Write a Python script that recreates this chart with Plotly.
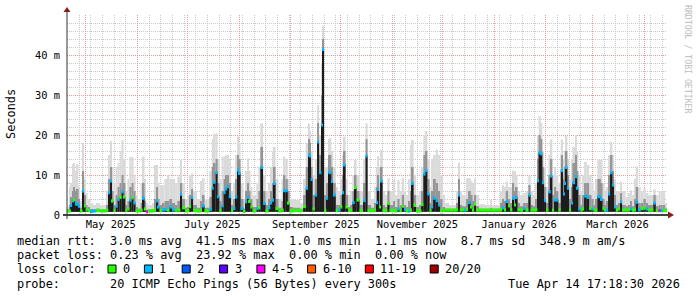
import datetime as dt
import plotly.graph_objects as go

# ---------------- data ----------------
T0 = dt.datetime(2025, 4, 20)                 # t_days = days after this moment
END = dt.datetime(2026, 4, 14, 17, 18, 30)    # graph end time
SPAN_DAYS = 360

t_days = [-0.28, 0.96, 1.86, 2.76, 3.66, 4.56, 5.58, 6.66, 7.56, 9.06,
          9.96, 10.86, 12.06, 13.56, 15.36, 17.16, 19.56, 21.96, 23.46, 24.54,
          25.56, 26.64, 27.66, 28.86, 30.06, 31.26, 32.46, 33.66, 34.74, 35.94,
          37.14, 38.46, 39.66, 40.86, 42.36, 43.86, 45.18, 46.26, 47.16, 48.36,
          50.76, 52.26, 53.16, 54.18, 55.26, 56.76, 58.26, 60.06, 61.14, 62.76,
          64.56, 65.94, 67.74, 68.76, 70.56, 72.06, 73.14, 74.16, 75.36, 77.76,
          79.86, 80.76, 82.26, 84.06, 85.14, 86.58, 87.78, 88.86, 90.06, 91.14,
          92.46, 93.66, 94.86, 95.76, 96.78, 98.16, 99.36, 100.74, 101.88, 102.84,
          103.86, 105.66, 106.74, 107.76, 108.84, 109.86, 111.06, 113.34, 114.54, 115.74,
          117.36, 118.86, 120.78, 121.74, 122.76, 123.78, 124.86, 126.66, 128.46, 129.78,
          130.74, 132.18, 133.26, 135.36, 137.76, 139.56, 141.36, 142.98, 144.36, 145.14,
          145.86, 147.06, 148.38, 149.76, 150.96, 152.34, 153.06, 153.96, 155.34, 156.36,
          157.26, 158.34, 159.36, 160.98, 162.36, 163.74, 164.94, 165.78, 166.86, 168.36,
          169.86, 170.94, 172.38, 173.46, 175.26, 177.36, 178.86, 180.06, 182.16, 183.96,
          185.16, 186.06, 186.96, 187.98, 189.06, 190.56, 191.94, 193.26, 195.36, 196.56,
          197.94, 199.26, 200.58, 201.96, 203.16, 204.54, 205.56, 206.58, 207.66, 209.16,
          210.96, 212.46, 213.54, 214.86, 215.94, 217.26, 218.46, 219.36, 220.98, 222.36,
          223.56, 225.06, 226.56, 228.96, 231.36, 233.46, 234.36, 235.38, 236.76, 237.96,
          239.16, 240.36, 241.98, 243.06, 243.96, 245.16, 246.96, 250.56, 253.56, 254.76,
          257.76, 259.86, 260.94, 261.96, 262.98, 264.36, 265.56, 266.94, 267.96, 268.98,
          270.06, 271.56, 273.36, 274.86, 276.54, 277.86, 279.36, 280.86, 281.94, 282.66,
          283.98, 284.94, 285.96, 287.16, 288.54, 289.98, 290.94, 291.96, 293.16, 294.54,
          295.98, 297.36, 298.08, 298.98, 299.94, 300.96, 302.16, 302.94, 304.56, 305.46,
          306.54, 307.86, 309.06, 309.96, 311.58, 312.96, 314.46, 315.66, 316.86, 317.94,
          319.98, 321.06, 322.26, 322.98, 324.36, 325.56, 326.94, 327.96, 328.98, 330.36,
          331.56, 332.76, 334.98, 336.36, 337.56, 338.76, 339.96, 340.98, 342.36, 343.98,
          345.54, 346.98, 348.36, 350.16, 351.54, 352.98, 354.66, 355.86, 357.06, 358.56]

median_ms = [1.0, 1.0, 2.4, 3.5, 3.8, 2.8, 2.7, 2.2, 1.0, 6.0,
             2.3, 1.3, 1.1, 0.9, 1.0, 1.1, 1.0, 1.0, 1.2, 5.6,
             8.5, 3.5, 1.1, 2.2, 3.9, 4.4, 5.8, 4.5, 1.1, 1.5,
             3.7, 4.3, 3.0, 1.0, 1.0, 1.2, 4.2, 1.5, 0.8, 1.0,
             1.0, 1.2, 3.5, 2.0, 1.1, 1.3, 1.4, 1.2, 2.0, 1.3,
             1.1, 1.2, 5.2, 1.8, 1.0, 1.1, 2.1, 4.4, 1.1, 1.0,
             1.2, 2.3, 1.0, 1.0, 1.4, 6.7, 8.2, 10.6, 4.6, 1.1,
             2.3, 5.6, 6.5, 7.1, 4.6, 1.1, 1.6, 4.5, 11.2, 10.4,
             1.6, 0.9, 3.3, 4.4, 3.4, 2.0, 1.0, 1.6, 1.8, 11.9,
             2.9, 1.0, 1.8, 3.0, 3.7, 7.9, 1.6, 1.0, 1.2, 6.1,
             6.1, 3.0, 1.0, 1.1, 1.1, 1.1, 2.1, 6.7, 15.0, 14.75,
             8.9, 1.5, 5.0, 18.3, 10.6, 22.5, 41.4, 1.1, 4.2, 10.8,
             10.6, 8.4, 5.0, 1.1, 1.2, 2.0, 5.6, 12.5, 2.0, 1.1,
             1.2, 3.1, 6.9, 3.75, 1.1, 3.6, 14.75, 1.1, 1.1, 1.2,
             3.1, 6.4, 2.0, 8.5, 1.1, 1.0, 2.9, 1.1, 1.1, 1.0,
             1.5, 1.1, 2.2, 1.3, 1.0, 1.0, 1.2, 7.9, 2.4, 1.0,
             1.0, 2.6, 10.25, 11.1, 5.25, 1.1, 2.0, 4.2, 3.6, 2.5,
             1.1, 1.1, 1.2, 1.2, 1.2, 1.3, 5.0, 1.2, 1.3, 1.2,
             1.4, 3.1, 2.0, 1.2, 2.7, 1.2, 1.2, 1.2, 1.2, 1.2,
             1.2, 1.3, 1.8, 1.3, 3.4, 2.3, 1.3, 4.2, 2.5, 4.4,
             1.3, 1.2, 1.6, 1.2, 5.0, 1.2, 1.2, 1.3, 8.6, 15.6,
             15.3, 8.1, 3.6, 1.2, 5.8, 9.75, 1.2, 3.75, 3.75, 1.2,
             11.1, 5.25, 7.9, 11.9, 6.7, 1.2, 3.0, 8.1, 9.6, 6.7,
             1.5, 1.2, 1.5, 4.75, 4.4, 1.6, 1.5, 1.2, 1.2, 4.6,
             3.9, 1.6, 1.2, 1.2, 5.25, 10.6, 7.5, 2.0, 1.2, 1.5,
             3.3, 1.2, 1.2, 1.3, 1.5, 1.2, 1.3, 3.2, 1.3, 1.6,
             1.7, 1.5, 1.2, 1.2, 3.0, 1.1, 1.1, 1.1, 1.1, 1.1]

smoke_mid_ms = [1.4, 2.5, 4.5, 6, 7, 6, 6.5, 4, 1.8, 11,
                5, 2.5, 2, 1.5, 1.4, 1.6, 1.4, 1.4, 2.5, 9,
                12, 6, 2.5, 5, 7, 8, 10, 8, 2.5, 3.5,
                7, 8, 6, 2, 1.6, 3, 8, 3.5, 1.3, 1.4,
                1.5, 4, 7, 4, 2.5, 3, 3.5, 3.5, 4, 3,
                2.5, 3.5, 8, 4, 1.8, 2, 5, 6.5, 2.5, 1.8,
                3.5, 5, 1.8, 1.8, 4.5, 12, 13, 14, 8, 3.5,
                6, 9, 10, 10, 8, 2.5, 4, 9, 15, 14,
                4, 1.6, 6, 8, 6, 4, 2, 4, 6, 17,
                6, 2.5, 4, 6, 8, 12, 4, 1.8, 3.5, 10,
                9, 6, 2, 1.8, 1.8, 1.6, 5, 12, 19, 18,
                12, 5, 9, 23, 15, 30, 44, 5, 8, 15,
                15, 12, 8, 2.5, 2.5, 5, 10, 16, 5, 2,
                2.5, 6, 10, 6, 2.5, 8, 19, 2.5, 1.8, 3,
                7, 10, 6, 12, 2.5, 2, 6, 2.5, 3.5, 2,
                4, 2.5, 5, 2.5, 2, 3.5, 6, 12, 5, 2,
                2.5, 6, 15, 16, 9, 3, 6, 9, 8, 6,
                4, 2, 1.6, 1.6, 1.6, 3, 9, 2.5, 2.2, 2.2,
                4, 6, 5, 3.5, 5, 2.2, 1.6, 1.6, 1.8, 1.6,
                1.6, 3, 4, 3.5, 6, 4, 3, 8, 6, 7,
                3, 2.2, 3, 3, 7.5, 2.5, 2.2, 4, 14, 20,
                19, 12, 7, 3, 10, 14, 5, 7, 6, 3,
                15, 9, 12, 16, 10, 4, 7, 13, 15, 11,
                5, 2.5, 5, 8, 8, 5, 4, 2.5, 4, 9,
                8, 4, 2.5, 3.5, 10, 15, 11, 5, 2.5, 3,
                5.5, 2.5, 2.2, 2.5, 3.5, 2.2, 4, 7, 3, 3,
                4, 3, 2.5, 2.5, 5, 2.2, 2.5, 2.5, 2.5, 1.6]

smoke_max_ms = [2.0, 7, 8, 12.7, 13, 11, 12.7, 7, 3.5, 18,
                9, 5.5, 4, 3, 2.5, 3, 2.5, 2.5, 6, 15,
                18.5, 12, 8, 12, 13, 16, 18.7, 14, 6, 9,
                14.5, 14.5, 10, 5, 4, 8, 14.6, 9, 3, 2.5,
                3, 12.5, 12.5, 8, 7.5, 7.5, 9, 10, 9, 9,
                8, 9.6, 13.8, 8, 4, 5, 10, 10.4, 6, 4,
                8.5, 9.2, 4, 4, 11, 19, 20.3, 20.4, 14, 9,
                14.6, 14.6, 15, 15, 13.7, 6, 8, 15, 19.6, 18,
                8, 4, 11, 14.2, 11, 7, 5, 8, 12, 22.9,
                10, 6, 8, 12, 16, 17, 9, 4, 9, 14.6,
                14, 9, 4, 3.75, 3.75, 3, 9, 18, 22.9, 21,
                16, 10, 14, 27.5, 20, 38, 47.3, 12, 12, 19,
                19.2, 16, 12, 7, 6, 9, 15, 19.6, 9, 5,
                6, 10, 13.75, 10, 6, 14, 22.9, 6, 4, 7,
                12, 14.75, 12, 16.25, 6, 5, 9.2, 6, 8.75, 5,
                8.7, 6, 9.2, 6, 5, 9, 17.5, 18.75, 10, 5,
                6, 12, 20, 21, 14, 7, 14, 15, 16.3, 15,
                10, 5, 3, 2.5, 2.5, 6, 13.1, 6, 5, 5,
                9.2, 9.2, 8.5, 8, 9.1, 5, 2.7, 2.5, 3.75, 2.5,
                2.5, 6, 7.5, 7, 8.3, 7, 7, 11.1, 11, 10,
                6, 5, 5.5, 6, 9.75, 6, 5, 8, 20, 24.75,
                23, 16, 12, 7, 15, 18.9, 10, 12, 10, 8,
                18.9, 14, 16, 19.75, 14, 9, 14, 17, 20, 16,
                10, 6, 10, 13.3, 12.5, 10, 8, 6, 9, 13.75,
                13.75, 8, 6, 7, 15, 18.3, 15, 9, 6, 6,
                8.3, 6, 4.5, 5.5, 6.2, 5, 9, 12.1, 7, 6,
                6.7, 5.5, 5, 5, 6.4, 5, 6, 6, 6, 3]

lost_pings = [0, 0, 1, 1, 0, 1, 1, 1, 0, 1,
              0, 0, 0, 1, 1, 0, 0, 0, 0, 1,
              1, 0, 0, 1, 1, 0, 1, 0, 0, 0,
              1, 0, 1, 0, 0, 0, 1, 0, 4, 0,
              0, 0, 1, 1, 0, 1, 1, 0, 1, 1,
              0, 0, 1, 0, 0, 0, 0, 1, 0, 0,
              0, 1, 0, 0, 1, 1, 1, 1, 1, 0,
              1, 1, 1, 1, 1, 0, 1, 1, 1, 1,
              1, 0, 1, 1, 0, 0, 0, 1, 0, 1,
              1, 0, 1, 1, 1, 1, 0, 0, 0, 1,
              1, 0, 0, 0, 0, 0, 0, 1, 1, 1,
              1, 0, 1, 1, 1, 1, 1, 0, 1, 1,
              1, 1, 1, 0, 1, 0, 1, 1, 0, 0,
              0, 1, 0, 0, 0, 1, 1, 0, 0, 0,
              1, 1, 0, 1, 0, 0, 0, 0, 0, 0,
              1, 0, 0, 1, 0, 1, 0, 1, 0, 0,
              0, 0, 1, 1, 1, 0, 1, 1, 1, 1,
              0, 0, 0, 0, 0, 0, 1, 0, 0, 1,
              0, 1, 0, 0, 0, 0, 0, 0, 0, 0,
              0, 0, 1, 0, 1, 0, 0, 1, 0, 1,
              0, 0, 1, 0, 1, 0, 0, 0, 1, 1,
              1, 1, 1, 0, 1, 1, 0, 1, 1, 0,
              1, 1, 1, 1, 1, 0, 1, 1, 1, 1,
              1, 0, 0, 1, 1, 0, 1, 0, 0, 1,
              1, 0, 0, 1, 1, 1, 1, 1, 0, 0,
              1, 0, 0, 0, 1, 0, 0, 1, 1, 0,
              0, 1, 0, 0, 1, 0, 4, 1, 0, 0]

loss_bounds = [0, 1, 2, 3, 5, 10, 19, 20]
loss_labels = ["0", "1", "2", "3", "4-5", "6-10", "11-19", "20/20"]
loss_colors = ["#26ff00", "#00b8ff", "#0059ff", "#5e00ff",
               "#ff00ff", "#ff5e00", "#ff0000", "#a00000"]

month_starts = ["2025-05-01", "2025-06-01", "2025-07-01", "2025-08-01",
                "2025-09-01", "2025-10-01", "2025-11-01", "2025-12-01",
                "2026-01-01", "2026-02-01", "2026-03-01", "2026-04-01"]
label_dates = ["2025-05-16", "2025-07-16", "2025-09-16",
               "2025-11-16", "2026-01-16", "2026-03-16"]
label_text = ["May 2025", "July 2025", "September 2025",
              "November 2025", "January 2026", "March 2026"]
y_tick_s = [0, 0.01, 0.02, 0.03, 0.04]
y_tick_text = ["0", "10 m", "20 m", "30 m", "40 m"]

rtt_line = "median rtt:  3.0 ms avg  41.5 ms max  1.0 ms min  1.1 ms now  8.7 ms sd  348.9 m am/s"
loss_line = "packet loss: 0.23 % avg  23.92 % max  0.00 % min  0.00 % now"
probe_line = "probe:       20 ICMP Echo Pings (56 Bytes) every 300s"
stamp_text = "Tue Apr 14 17:18:30 2026"
watermark = "RRDTOOL / TOBI OETIKER"

# ---------------- styling ----------------
MONO = "DejaVu Sans Mono"
GRID_GRAY = "#c8c8c8"
GRID_RED = "#ec9a9a"
ARROW = "#8b1a1a"
FLOOR_MS = 0.8          # lowest smoke edge
BAND_MS = 0.4           # half height of median band
W, H = 697, 297
PL, PR, PT, PB = 67, 667, 15, 215   # plot box in pixels

n = len(t_days)
assert all(len(a) == n for a in (median_ms, smoke_mid_ms, smoke_max_ms, lost_pings)), \
    [len(a) for a in (t_days, median_ms, smoke_mid_ms, smoke_max_ms, lost_pings)]

start = END - dt.timedelta(days=SPAN_DAYS)
times = [T0 + dt.timedelta(days=d) for d in t_days]
edges = times[1:] + [END]
widths = [(b - a).total_seconds() * 1000.0 for a, b in zip(times, edges)]


def loss_color(k):
    for b, c in zip(loss_bounds, loss_colors):
        if k <= b:
            return c
    return loss_colors[-1]


def smoke_trace(top_ms, color):
    return go.Bar(x=times, y=[(v - FLOOR_MS) / 1000.0 for v in top_ms],
                  base=FLOOR_MS / 1000.0, width=widths, offset=0,
                  marker=dict(color=color, line=dict(width=0)),
                  hoverinfo="skip", showlegend=False)


fig = go.Figure()
fig.add_trace(smoke_trace(smoke_max_ms, "#dadada"))
fig.add_trace(smoke_trace(smoke_mid_ms, "#959595"))
fig.add_trace(smoke_trace(median_ms, "#1c1c1c"))
fig.add_trace(go.Bar(x=times, y=[2 * BAND_MS / 1000.0] * n,
                     base=[(m - BAND_MS) / 1000.0 for m in median_ms],
                     width=widths, offset=0,
                     marker=dict(color=[loss_color(k) for k in lost_pings], line=dict(width=0)),
                     hoverinfo="skip", showlegend=False))
fig.add_trace(go.Scatter(x=[], y=[], xaxis="x2", showlegend=False))


def px(x):
    return (x - PL) / (PR - PL)


def py(y):
    return (PB - y) / (PB - PT)


def nb(s):
    return s.replace(" ", "\u00a0")


def ann(x, y, text, size=11.9, xanchor="left", color="#000000", angle=0):
    return dict(xref="paper", yref="paper", x=px(x), y=py(y), text=nb(text),
                showarrow=False, xanchor=xanchor, yanchor="middle", textangle=angle,
                font=dict(family=MONO, size=size, color=color), borderpad=0)


annotations = [
    ann(16, 241, rtt_line),
    ann(16, 255, loss_line),
    ann(16, 269, "loss color:"),
    ann(16, 284, probe_line),
    ann(681, 284, stamp_text, xanchor="right"),
    ann(11, 114, "Seconds", xanchor="center", angle=-90),
    ann(688, 59, watermark, size=8.2, xanchor="center", color="#bdbdbd", angle=90),
]

shapes = []
sq_left = [108, 144.4, 182.2, 219.6, 256.9, 307.6, 365.3, 430.2]
for xl, lab, col in zip(sq_left, loss_labels, loss_colors):
    shapes.append(dict(type="rect", xref="paper", yref="paper",
                       x0=px(xl), x1=px(xl + 8), y0=py(273), y1=py(265),
                       fillcolor=col, line=dict(color="#000000", width=1)))
    annotations.append(ann(xl + 14, 269, lab))


# axes, drawn RRDtool style with arrow heads
def pshape(xa, ya, path, color, fill=None, width=1):
    d = dict(type="path", xref="paper", yref="paper", xsizemode="pixel", ysizemode="pixel",
             xanchor=xa, yanchor=ya, path=path, line=dict(color=color, width=width), layer="above")
    if fill:
        d["fillcolor"] = fill
        d["line"] = dict(width=0)
    return d


shapes.append(pshape(0, 0, "M -4,0 L 604,0", "#000000", width=1.5))
shapes.append(pshape(0, 0, "M 0,-4 L 0,204", "#333333", width=1))
shapes.append(pshape(0, 1, "M -3.5,3 L 3.5,3 L 0,8 Z", ARROW, fill=ARROW))
shapes.append(pshape(1, 0, "M 1,-3.5 L 1,3.5 L 7,0 Z", ARROW, fill=ARROW))

fig.update_layout(
    width=W, height=H,
    margin=dict(l=PL, r=W - PR, t=PT, b=H - PB, pad=0),
    paper_bgcolor="white", plot_bgcolor="white",
    barmode="overlay", showlegend=False,
    font=dict(family=MONO, size=10.4, color="#000000"),
    xaxis=dict(type="date", range=[start, END], tickmode="array", tickvals=month_starts,
               showticklabels=False, ticks="", showgrid=True, gridcolor=GRID_RED,
               gridwidth=1, griddash="1px,1px", zeroline=False, showline=False,
               minor=dict(tick0="2025-04-20", dtick=7 * 86400000, showgrid=True,
                          gridcolor=GRID_GRAY, gridwidth=1, griddash="1px,1px", ticks="")),
    xaxis2=dict(type="date", overlaying="x", matches="x", anchor="y", side="bottom",
                tickmode="array", tickvals=label_dates, ticktext=label_text,
                showgrid=False, zeroline=False, showline=False, ticks="",
                ticklabelstandoff=2,
                tickfont=dict(family=MONO, size=10.4, color="#000000")),
    yaxis=dict(range=[0, 0.05], tickmode="array", tickvals=y_tick_s, ticktext=y_tick_text,
               showgrid=True, gridcolor=GRID_RED, gridwidth=1, griddash="1px,1px",
               zeroline=False, showline=False, ticks="", ticklabelstandoff=6,
               tickfont=dict(family=MONO, size=10.4, color="#000000"),
               minor=dict(dtick=0.002, showgrid=True, gridcolor=GRID_GRAY,
                          gridwidth=1, griddash="1px,1px", ticks="")),
    annotations=annotations,
    shapes=shapes,
)

fig.write_html("out.html")
